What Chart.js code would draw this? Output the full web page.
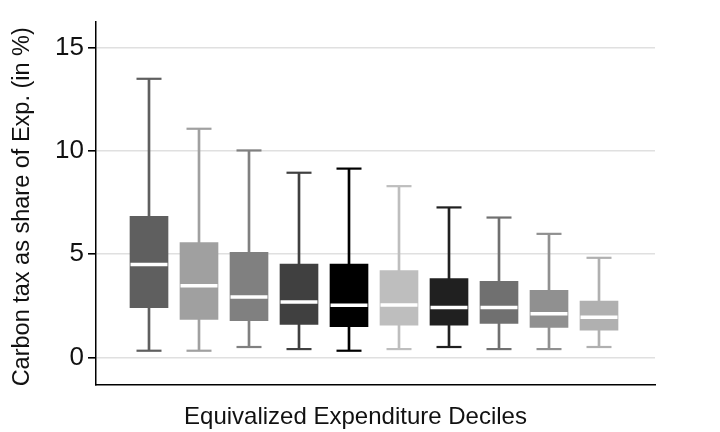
<!DOCTYPE html>
<html>
<head>
<meta charset="utf-8">
<script src="https://cdn.jsdelivr.net/npm/chart.js@4.4.0/dist/chart.umd.min.js"></script>
<style>
  html, body { margin: 0; padding: 0; background: #fff; }
  #wrap { width: 720px; height: 432px; }
</style>
</head>
<body>
<div id="wrap"><canvas id="boxChart"></canvas></div>
<script>
var deciles = [1, 2, 3, 4, 5, 6, 7, 8, 9, 10];
var whiskerLow = [0.33, 0.33, 0.51, 0.41, 0.33, 0.41, 0.51, 0.41, 0.41, 0.51];
var q1 = [2.41, 1.84, 1.79, 1.60, 1.49, 1.57, 1.57, 1.65, 1.46, 1.32];
var median = [4.51, 3.48, 2.93, 2.69, 2.53, 2.55, 2.42, 2.42, 2.12, 1.95];
var q3 = [6.84, 5.57, 5.10, 4.53, 4.53, 4.21, 3.82, 3.69, 3.26, 2.74];
var whiskerHigh = [13.50, 11.08, 10.03, 8.95, 9.15, 8.30, 7.27, 6.78, 5.99, 4.83];
var yTicks = [0, 5, 10, 15];
var boxColors = ['#5f5f5f', '#a0a0a0', '#808080', '#404040', '#000000',
                 '#bebebe', '#202020', '#707070', '#909090', '#b0b0b0'];

var fontFam = '"Liberation Sans", Arial, sans-serif';
var nb = '\u00a0';

function pts(vals) {
  return deciles.map(function (d, i) { return { x: d, y: vals[i] }; });
}
function ranges(lo, hi) {
  return deciles.map(function (d, i) { return { x: d, y: [lo[i], hi[i]] }; });
}

var ctx = document.getElementById('boxChart').getContext('2d');
new Chart(ctx, {
  data: {
    datasets: [
      // whisker stems, hidden behind the boxes
      {
        type: 'bar', order: 4, grouped: false,
        data: ranges(whiskerLow, whiskerHigh),
        backgroundColor: boxColors, barThickness: 2
      },
      // interquartile boxes
      {
        type: 'bar', order: 3, grouped: false,
        data: ranges(q1, q3),
        backgroundColor: boxColors, barThickness: 38
      },
      // whisker caps
      {
        type: 'scatter', order: 2, data: pts(whiskerHigh),
        pointStyle: 'line', pointRadius: 12.5, borderWidth: 2.2,
        borderColor: boxColors, backgroundColor: boxColors
      },
      {
        type: 'scatter', order: 2, data: pts(whiskerLow),
        pointStyle: 'line', pointRadius: 12.5, borderWidth: 2.2,
        borderColor: boxColors, backgroundColor: boxColors
      },
      // medians
      {
        type: 'scatter', order: 1, data: pts(median),
        pointStyle: 'line', pointRadius: 18.5, borderWidth: 3.5,
        borderColor: '#ffffff', backgroundColor: '#ffffff'
      }
    ]
  },
  options: {
    responsive: true,
    maintainAspectRatio: false,
    animation: false,
    events: [],
    layout: { padding: { left: 8, right: 65, top: 15, bottom: 0 } },
    plugins: {
      legend: { display: false },
      tooltip: { enabled: false }
    },
    scales: {
      x: {
        type: 'linear',
        offset: false,
        min: -0.06, max: 11.12,
        ticks: { display: false },
        grid: { display: false, offset: false },
        border: { display: true, color: '#000', width: 1.5 },
        title: {
          display: true,
          text: 'Equivalized Expenditure Deciles' + nb.repeat(6),
          color: '#111',
          font: { family: fontFam, size: 24 },
          padding: { top: 3, bottom: 0 }
        },
        afterFit: function (s) { s.height = 47; }
      },
      y: {
        type: 'linear',
        min: -1.33, max: 16.25,
        afterBuildTicks: function (s) {
          s.ticks = yTicks.map(function (v) { return { value: v }; });
        },
        ticks: {
          color: '#111',
          font: { family: fontFam, size: 26 },
          padding: 4
        },
        grid: { color: '#e0e0e0', lineWidth: 1.6, tickColor: '#000', tickLength: 8 },
        border: { display: true, color: '#000', width: 1.5 },
        title: {
          display: true,
          text: 'Carbon tax as share of Exp. (in %)' + nb,
          color: '#111',
          font: { family: fontFam, size: 23.5 },
          padding: { top: 0, bottom: 4 }
        },
        afterFit: function (s) { s.width = 88; }
      }
    }
  }
});
</script>
</body>
</html>
